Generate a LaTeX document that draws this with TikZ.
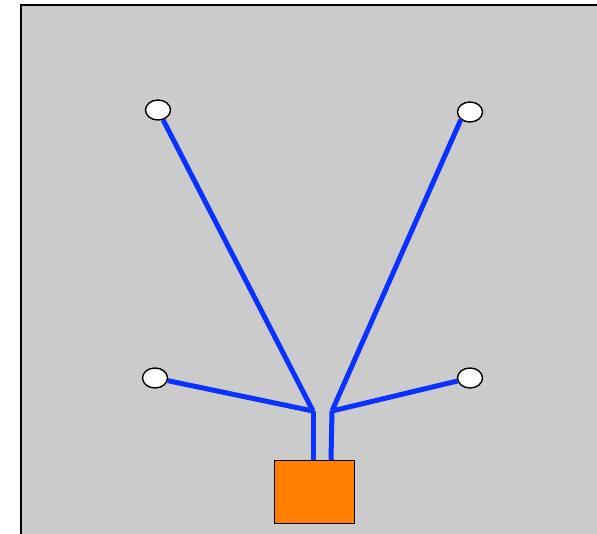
\documentclass[tikz,border=0pt]{standalone}
\usepackage{tikz}
\usetikzlibrary{calc,shapes.geometric}
\definecolor{bggray}{RGB}{203,203,203}
\definecolor{wireblue}{RGB}{10,50,255}
\definecolor{boxorange}{RGB}{255,128,0}
\tikzset{
    hole/.style={draw, ellipse, line width=1.4pt, fill=white, inner sep=0pt, minimum width=25pt, minimum height=20pt},
    wire/.style={draw=wireblue, line width=5pt}}

\begin{document}
\begin{tikzpicture}[x=1pt,y=-1pt]
\useasboundingbox (0,0) rectangle (597,533);
    \draw[fill=bggray, line width=1.5pt] (21,540) -- (21,5) -- (610,5);
    \fill[bggray] (21.75,5.75) rectangle (610,540);

    \node (B)[draw, line width=1.4pt, fill=boxorange, minimum width=80pt, minimum height=63pt, inner sep=0pt, anchor=north west] at (274,460) {};
    \coordinate (Bl) at (313,460);
    \coordinate (Br) at (331,460);
    \coordinate (Jl) at (313,411);
    \coordinate (Jr) at (332,411);

    \node (TL)[hole] at (158,110) {};
    \node (TR)[hole] at (470,112) {};
    \node (LL)[hole] at (155,378) {};
    \node (LR)[hole] at (470,378) {};

    \draw[wire] (Bl) -- (Jl);
    \draw[wire] (Br) -- (Jr);
    \draw[wire] (Jl) -- (TL);
    \draw[wire] (Jl) -- (LL);
    \draw[wire] (Jr) -- (TR.220);
    \draw[wire] (Jr) -- (LR);
    %\draw[wire] (Jl) -- (Jr);
\end{tikzpicture}
\end{document}
